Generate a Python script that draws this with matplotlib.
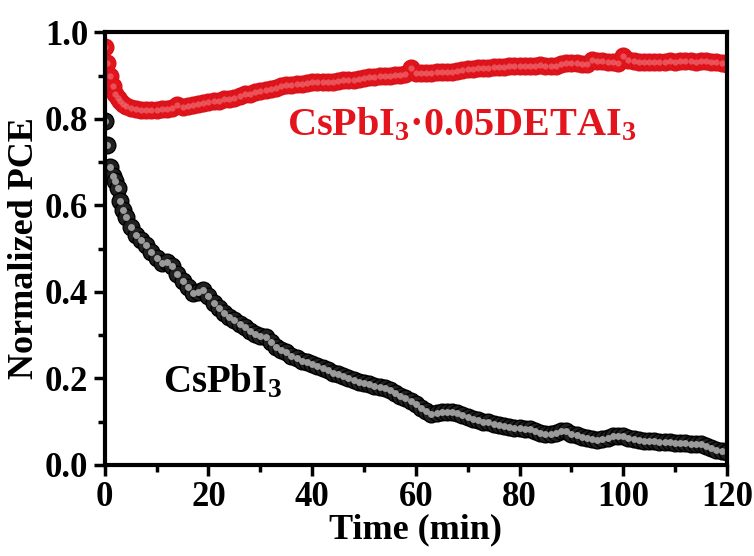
import matplotlib
matplotlib.use("Agg")
import matplotlib.pyplot as plt
from matplotlib.ticker import MultipleLocator

plt.rcParams['font.family'] = ['Liberation Serif', 'DejaVu Serif']
plt.rcParams['mathtext.fontset'] = 'custom'
plt.rcParams['mathtext.rm'] = 'Liberation Serif:bold'
plt.rcParams['mathtext.it'] = 'Liberation Serif:bold'
plt.rcParams['mathtext.bf'] = 'Liberation Serif:bold'

# ---- data ----
time_early = [0, 0.5, 1.0, 1.5, 2.0, 2.5, 3.0, 3.5, 4.0]
time_reg = [5, 6, 7, 8, 9, 10, 11, 12, 13, 14, 15, 16, 17, 18, 19, 20,
            21, 22, 23, 24, 25, 26, 27, 28, 29, 30, 31, 32, 33, 34, 35, 36, 37, 38, 39, 40,
            41, 42, 43, 44, 45, 46, 47, 48, 49, 50, 51, 52, 53, 54, 55, 56, 57, 58, 59, 60,
            61, 62, 63, 64, 65, 66, 67, 68, 69, 70, 71, 72, 73, 74, 75, 76, 77, 78, 79, 80,
            81, 82, 83, 84, 85, 86, 87, 88, 89, 90, 91, 92, 93, 94, 95, 96, 97, 98, 99, 100,
            101, 102, 103, 104, 105, 106, 107, 108, 109, 110, 111, 112, 113, 114, 115, 116,
            117, 118, 119, 120]
time = time_early + time_reg

pce_detai = [0.965, 0.930, 0.900, 0.875, 0.858, 0.848, 0.840, 0.834, 0.830,
             0.826, 0.823, 0.821, 0.820, 0.820, 0.821, 0.822, 0.823, 0.825, 0.832,
             0.828, 0.829, 0.831, 0.833, 0.836, 0.838,
             0.840, 0.842, 0.845, 0.846, 0.849, 0.852, 0.857, 0.858, 0.862, 0.864,
             0.866, 0.869, 0.872, 0.876, 0.877, 0.878, 0.880, 0.881, 0.882, 0.884,
             0.884, 0.885, 0.886, 0.886, 0.888, 0.889, 0.889, 0.890, 0.892, 0.894,
             0.896, 0.897, 0.898, 0.898, 0.899, 0.901, 0.902, 0.903, 0.918, 0.905,
             0.905, 0.906, 0.905, 0.907, 0.908, 0.909, 0.909, 0.910, 0.912, 0.914,
             0.916, 0.917, 0.917, 0.918, 0.919, 0.919, 0.920, 0.921, 0.921, 0.922,
             0.923, 0.921, 0.922, 0.925, 0.923, 0.922, 0.923, 0.926, 0.928, 0.929,
             0.928, 0.927, 0.926, 0.935, 0.934, 0.933, 0.932, 0.931, 0.930, 0.945,
             0.936, 0.934, 0.932, 0.932, 0.931, 0.931, 0.932, 0.932, 0.933, 0.932,
             0.933, 0.934, 0.933, 0.932, 0.933, 0.934, 0.932, 0.931, 0.929, 0.927]

pce_ref = [0.795, 0.740, 0.688, 0.668, 0.655, 0.640, 0.610, 0.590, 0.572,
           0.550, 0.532, 0.520, 0.508, 0.493, 0.478, 0.466, 0.468, 0.460, 0.440,
           0.425, 0.410, 0.397, 0.400, 0.405, 0.390,
           0.375, 0.362, 0.350, 0.342, 0.335, 0.326, 0.318, 0.310, 0.302, 0.298,
           0.296, 0.285, 0.272, 0.266, 0.260, 0.252, 0.246, 0.240, 0.238, 0.233,
           0.228, 0.224, 0.219, 0.213, 0.210, 0.206, 0.200, 0.196, 0.192, 0.190,
           0.186, 0.183, 0.180, 0.178, 0.172, 0.165, 0.158, 0.155, 0.148, 0.140,
           0.132, 0.124, 0.118, 0.120, 0.122, 0.123, 0.122, 0.120, 0.115, 0.110,
           0.106, 0.103, 0.100, 0.098, 0.095, 0.092, 0.090, 0.087, 0.086, 0.084,
           0.083, 0.082, 0.078, 0.074, 0.072, 0.072, 0.074, 0.078, 0.078, 0.072,
           0.068, 0.065, 0.062, 0.060, 0.058, 0.060, 0.062, 0.066, 0.067, 0.066,
           0.062, 0.060, 0.057, 0.055, 0.054, 0.054, 0.053, 0.052, 0.052, 0.051,
           0.050, 0.050, 0.049, 0.048, 0.047, 0.044, 0.040, 0.035, 0.031, 0.029]

x_ticks = [0, 20, 40, 60, 80, 100, 120]
y_ticks = [0.0, 0.2, 0.4, 0.6, 0.8, 1.0]

# ---- figure ----
fig = plt.figure(figsize=(7.54, 5.56), dpi=100)
ax = fig.add_axes([0.139, 0.164, 0.825, 0.778])

red = '#e3141c'
# black spheres
ax.plot(time, pce_ref, 'o', ms=12, mfc='#202020', mec='#000000', mew=1.0, zorder=3)
ax.plot(time, pce_ref, 'o', ms=5, mfc='#9a9a9a', mec='none', zorder=4)
# red spheres
ax.plot(time, pce_detai, 'o', ms=12, mfc=red, mec='#d8121a', mew=1.0, zorder=3)
ax.plot(time, pce_detai, 'o', ms=4.5, mfc='#ee6a70', mec='none', zorder=4, alpha=0.7)

ax.set_xlim(0, 120)
ax.set_ylim(0, 1.0)
ax.set_xticks(x_ticks)
ax.set_yticks(y_ticks)
ax.set_xticklabels([str(v) for v in x_ticks])
ax.set_yticklabels([f"{v:.1f}" for v in y_ticks])
ax.xaxis.set_minor_locator(MultipleLocator(10))
ax.yaxis.set_minor_locator(MultipleLocator(0.1))
ax.tick_params(which='major', direction='out', length=8, width=2.5,
               labelsize=25, top=False, right=False, pad=4)
ax.tick_params(which='minor', direction='out', length=5, width=2.5,
               top=False, right=False)
for lab in ax.get_xticklabels() + ax.get_yticklabels():
    lab.set_fontweight('bold')
for s in ax.spines.values():
    s.set_linewidth(3)
    s.set_zorder(5)

ax.set_xlabel('Time (min)', fontsize=26, fontweight='bold', labelpad=-1)
ax.set_ylabel('Normalized PCE', fontsize=26, fontweight='bold', labelpad=3)

ax.text(0.293, 0.785, r'CsPbI$_3$·0.05DETAI$_3$', transform=ax.transAxes,
        fontsize=29, fontweight='bold', color=red, ha='left', va='center')
ax.text(0.093, 0.19, r'CsPbI$_3$', transform=ax.transAxes,
        fontsize=28, fontweight='bold', color='black', ha='left', va='center')

fig.savefig('out.png', dpi=100)
